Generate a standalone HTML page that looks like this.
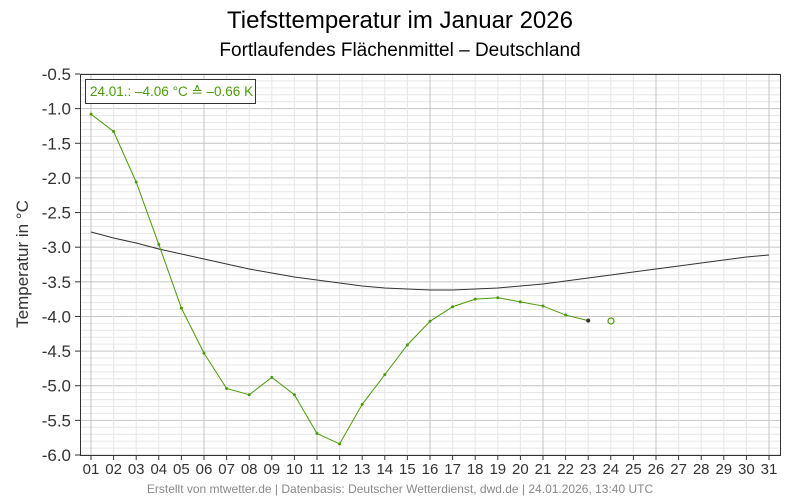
<!DOCTYPE html>
<html><head><meta charset="utf-8"><style>body{margin:0;background:#fff}svg{display:block}</style></head><body>
<svg width="800" height="500" xmlns="http://www.w3.org/2000/svg" font-family="Liberation Sans, sans-serif">
<rect width="800" height="500" fill="#fff"/>
<text x="400" y="28" font-size="24" text-anchor="middle" fill="#000">Tiefsttemperatur im Januar 2026</text>
<text x="400" y="56" font-size="19" text-anchor="middle" fill="#000">Fortlaufendes Flächenmittel – Deutschland</text>
<g id="grid"></g>
<rect x="80.5" y="74.5" width="700" height="381" fill="none" stroke="#333" stroke-width="1"/>
<g id="ylab" font-size="17" fill="#333" text-anchor="end"></g>
<g id="xlab" font-size="15" fill="#333" text-anchor="middle"></g>
<text transform="translate(28,264) rotate(-90)" font-size="17" text-anchor="middle" fill="#333">Temperatur in °C</text>
<polyline id="blk" fill="none" stroke="#333" stroke-width="1"/>
<polyline id="grn" fill="none" stroke="#4a9a0a" stroke-width="1"/>
<g id="dots"></g>
<circle cx="611" cy="321" r="3" fill="none" stroke="#4a9a0a" stroke-width="1.2"/>
<rect x="85.5" y="79.5" width="170" height="24" fill="#fff" stroke="#333"/>
<text x="90" y="96" font-size="13.5" fill="#4a9a0a">24.01.: –4.06 °C ≙ –0.66 K</text>
<text x="400" y="493" font-size="12" text-anchor="middle" fill="#888">Erstellt von mtwetter.de | Datenbasis: Deutscher Wetterdienst, dwd.de | 24.01.2026, 13:40 UTC</text>
<script>
var ns="http://www.w3.org/2000/svg";
function el(t,a,p,txt){var e=document.createElementNS(ns,t);for(var k in a)e.setAttribute(k,a[k]);if(txt)e.textContent=txt;document.getElementById(p).appendChild(e);return e;}
function X(d){return 91+(d-1)*22.6;}
function Y(v){return 74+(-0.5-v)*69.27;}
for(var i=0;i<=55;i++){var y=74+i*381/55;var maj=i%5==0;el('line',{x1:80,x2:780,y1:y,y2:y,stroke:maj?'#c4c4c4':'#e6e6e6','stroke-width':1},'grid');}
for(var d=1;d<=31;d++){var x=X(d);var maj=(d-1)%5==0;el('line',{x1:x,x2:x,y1:74,y2:455,stroke:maj?'#c4c4c4':'#e6e6e6','stroke-width':1},'grid');
el('line',{x1:x,x2:x,y1:455,y2:460,stroke:'#333'},'grid');
el('text',{x:x,y:474},'xlab',(d<10?'0':'')+d);}
for(var i=0;i<=11;i++){var v=-0.5-i*0.5;var y=74+i*381/11;el('line',{x1:75,x2:80,y1:y,y2:y,stroke:'#333'},'grid');el('text',{x:71,y:y+6},'ylab',v.toFixed(1));}
var g=[-1.08,-1.33,-2.06,-2.96,-3.88,-4.53,-5.04,-5.13,-4.88,-5.13,-5.69,-5.84,-5.27,-4.84,-4.41,-4.07,-3.86,-3.75,-3.73,-3.79,-3.85,-3.98,-4.06];
var pts=[];g.forEach(function(v,i){var x=X(i+1),y=Y(v);pts.push(x+','+y);el('circle',{cx:x,cy:y,r:i==22?2:1.5,fill:i==22?'#333':'#4a9a0a'},'dots');});
document.getElementById('grn').setAttribute('points',pts.join(' '));
var b=[232,238,243,249,254,259,264,269,273,277,280,283,286,288,289,290,290,289,288,286,284,281,278,275,272,269,266,263,260,257,255];
document.getElementById('blk').setAttribute('points',b.map(function(y,i){return X(i+1)+','+y;}).join(' '));
</script>
</svg>
</body></html>
